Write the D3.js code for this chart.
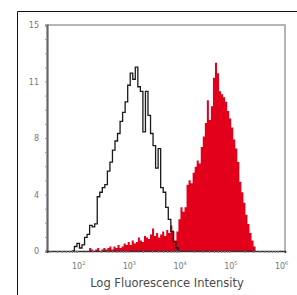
<!DOCTYPE html>
<html>
<head>
<meta charset="utf-8">
<script src="https://cdn.jsdelivr.net/npm/d3@7"></script>
<style>
  body { margin: 0; background: #fff; }
  svg { display: block; font-family: 'DejaVu Sans', Verdana, sans-serif; }
</style>
</head>
<body>
<div class="container"></div>
<script>
// y ticks (count), labels are rounded quarters of 15
const yTicks = [0, 3.75, 7.5, 11.25, 15];
const xTickExps = [2, 3, 4, 5, 6];

// control (unstained) histogram: log10 intensity bins and counts
const controlLog = [1.90, 1.95, 2.00, 2.05, 2.10, 2.15, 2.20, 2.25, 2.30, 2.35,
  2.40, 2.45, 2.50, 2.55, 2.60, 2.65, 2.70, 2.75, 2.80, 2.85,
  2.90, 2.95, 3.00, 3.05, 3.10, 3.15, 3.20, 3.25, 3.30, 3.35,
  3.40, 3.45, 3.50, 3.55, 3.60, 3.65, 3.70, 3.75, 3.80, 3.85,
  3.90, 3.95, 4.00];
const controlCount = [0, 0.3, 0.5, 0.2, 0.4, 0.9, 1.1, 1.7, 1.6, 1.8,
  3.6, 3.9, 4.2, 4.4, 5.3, 5.9, 6.7, 7.3, 7.8, 8.6,
  9.2, 9.9, 11.0, 11.8, 11.4, 12.2, 10.9, 10.6, 7.9, 10.6,
  9.0, 7.8, 7.0, 5.5, 6.8, 4.2, 3.9, 2.9, 2.1, 1.3,
  0.6, 0.2, 0];

// stained histogram
const stainedLog = [2.20, 2.24, 2.28, 2.32, 2.36, 2.40, 2.44, 2.48, 2.52, 2.56,
  2.60, 2.64, 2.68, 2.72, 2.76, 2.80, 2.84, 2.88, 2.92, 2.96,
  3.00, 3.04, 3.08, 3.12, 3.16, 3.20, 3.24, 3.28, 3.32, 3.36,
  3.40, 3.44, 3.48, 3.52, 3.56, 3.60, 3.64, 3.68, 3.72, 3.76,
  3.80, 3.84, 3.88, 3.92, 3.96, 4.00, 4.04, 4.08, 4.12, 4.16,
  4.20, 4.24, 4.28, 4.32, 4.36, 4.40, 4.44, 4.48, 4.52, 4.56,
  4.60, 4.64, 4.68, 4.72, 4.76, 4.80, 4.84, 4.88, 4.92, 4.96,
  5.00, 5.04, 5.08, 5.12, 5.16, 5.20, 5.24, 5.28, 5.32, 5.36,
  5.40, 5.44, 5.48, 5.52];
const stainedCount = [0, 0.2, 0.1, 0, 0.1, 0.2, 0, 0.1, 0.2, 0.1,
  0.2, 0.3, 0.1, 0.3, 0.2, 0.4, 0.2, 0.3, 0.5, 0.4,
  0.6, 0.4, 0.7, 0.5, 0.6, 0.9, 0.7, 0.6, 1.0, 0.9,
  0.8, 1.1, 1.5, 1.0, 1.2, 0.9, 1.1, 1.3, 1.0, 1.4,
  1.2, 1.7, 1.3, 0.7, 1.3, 2.1, 2.9, 2.6, 2.9, 4.4,
  4.7, 4.5, 5.2, 5.6, 6.0, 5.8, 6.9, 7.6, 8.5, 10.0,
  8.7, 9.6, 11.5, 12.5, 11.8, 10.6, 10.4, 10.2, 9.9, 9.3,
  8.8, 8.2, 7.4, 6.8, 5.9, 4.6, 3.9, 3.2, 2.4, 1.8,
  1.2, 0.7, 0.3, 0];

const width = 297;
const height = 295;
const plot = { left: 47, right: 285, top: 25, bottom: 251 };

const svg = d3.select('.container')
  .append('svg')
  .attr('width', width)
  .attr('height', height);

// outer frame
svg.append('path')
  .attr('d', `M17.5,${height}V11.5H${width}`)
  .attr('fill', 'none')
  .attr('stroke', '#111')
  .attr('stroke-width', 1);

const xScale = d3.scaleLog()
  .domain([Math.pow(10, 1.41), Math.pow(10, 6.1)])
  .range([plot.left, plot.right]);
const yScale = d3.scaleLinear()
  .domain([0, 15])
  .range([plot.bottom, plot.top]);

// plot frame top / right
svg.append('path')
  .attr('d', `M${plot.left},${plot.top}H${plot.right}V${plot.bottom}`)
  .attr('fill', 'none')
  .attr('stroke', '#b5b5b5')
  .attr('stroke-width', 2);

const toPts = (logs, counts) => logs.map((l, i) => ({ x: Math.pow(10, l), y: counts[i] }));

const area = d3.area()
  .x((d) => xScale(d.x))
  .y0(yScale(0))
  .y1((d) => yScale(d.y))
  .curve(d3.curveStepAfter);

svg.append('path')
  .datum(toPts(stainedLog, stainedCount))
  .attr('d', area)
  .attr('fill', '#e3001b');

const line = d3.line()
  .x((d) => xScale(d.x))
  .y((d) => yScale(d.y))
  .curve(d3.curveStepAfter);

svg.append('path')
  .datum(toPts(controlLog, controlCount))
  .attr('d', line)
  .attr('fill', 'none')
  .attr('stroke', '#1a1a1a')
  .attr('stroke-width', 1.3);

// y axis
const yAxis = d3.axisLeft(yScale)
  .tickValues(d3.range(0, 15.01, 15 / 16))
  .tickSize(2)
  .tickFormat('');
const gy = svg.append('g')
  .attr('id', 'y-axis')
  .attr('transform', `translate(${plot.left},0)`)
  .call(yAxis);
gy.select('.domain').attr('stroke', '#666').attr('stroke-width', 2.2);
gy.selectAll('.tick line').attr('stroke', '#999');

svg.append('g')
  .selectAll('text')
  .data(yTicks)
  .enter()
  .append('text')
  .attr('x', 39)
  .attr('y', (d) => yScale(d) + 3)
  .attr('text-anchor', 'end')
  .style('font-size', '8px')
  .attr('fill', '#777')
  .text((d) => Math.round(d));

// x axis
const minorTicks = [];
xTickExps.forEach((e) => {
  for (let k = 1; k < 10; k++) minorTicks.push(k * Math.pow(10, e - 1));
});
const xAxis = d3.axisBottom(xScale)
  .tickValues(minorTicks.filter((v) => v >= xScale.domain()[0] && v <= xScale.domain()[1]))
  .tickSize(2)
  .tickFormat('');
const gx = svg.append('g')
  .attr('id', 'x-axis')
  .attr('transform', `translate(0,${plot.bottom})`)
  .call(xAxis);
gx.select('.domain').attr('stroke', '#333').attr('stroke-width', 1.6);
gx.selectAll('.tick line').attr('stroke', '#888');

const xl = svg.append('g')
  .selectAll('text')
  .data(xTickExps)
  .enter()
  .append('text')
  .attr('x', (d) => xScale(Math.pow(10, d)) - 5)
  .attr('y', 269)
  .style('font-size', '8px')
  .attr('fill', '#777');
xl.append('tspan').text('10');
xl.append('tspan')
  .attr('dy', -4)
  .style('font-size', '5px')
  .text((d) => d);

svg.append('text')
  .attr('x', 167)
  .attr('y', 287)
  .attr('text-anchor', 'middle')
  .style('font-size', '11.5px')
  .attr('fill', '#4a4a4a')
  .text('Log Fluorescence Intensity');
</script>
</body>
</html>
